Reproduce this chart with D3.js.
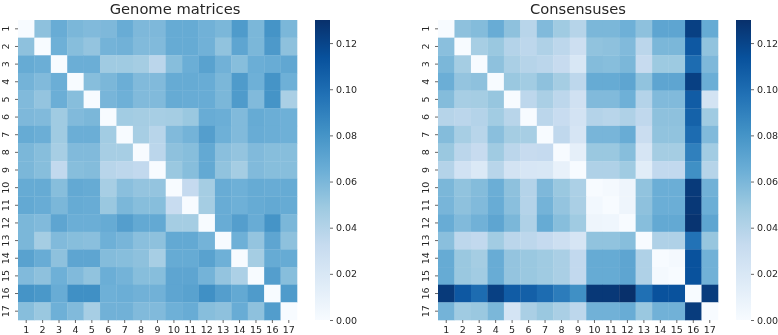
<!DOCTYPE html>
<html>
<head>
<meta charset="utf-8">
<style>
  html, body { margin: 0; padding: 0; background: #fff; }
  svg { display: block; filter: blur(0.35px); }
  text { font-family: "DejaVu Sans", sans-serif; fill: #262626; }
</style>
</head>
<body>
<script src="https://cdn.jsdelivr.net/npm/d3@7"></script>
<script>
// Data
const labels = ['1','2','3','4','5','6','7','8','9','10','11','12','13','14','15','16','17'];
const colorTicks = [0, 0.02, 0.04, 0.06, 0.08, 0.10, 0.12];
const blues = ['#f7fbff','#deebf7','#c6dbef','#9ecae1','#6baed6','#4292c6','#2171b5','#08519c','#08306b'];

const genome = [
  [0,.054,.066,.060,.058,.059,.066,.059,.059,.067,.067,.063,.060,.076,.060,.080,.060],
  [.054,0,.064,.056,.052,.062,.063,.058,.058,.067,.067,.063,.053,.070,.060,.077,.054],
  [.067,.065,0,.065,.065,.048,.048,.046,.037,.056,.065,.072,.063,.056,.065,.066,.069],
  [.062,.058,.065,0,.056,.060,.065,.058,.058,.067,.067,.066,.060,.076,.064,.080,.064],
  [.058,.052,.065,.056,0,.061,.064,.058,.058,.067,.066,.066,.060,.076,.058,.080,.044],
  [.059,.058,.048,.058,.060,0,.047,.046,.045,.046,.050,.066,.065,.058,.067,.065,.064],
  [.067,.065,.048,.065,.065,.047,0,.045,.038,.058,.062,.074,.064,.058,.066,.065,.064],
  [.060,.056,.045,.058,.058,.045,.045,0,.037,.054,.056,.068,.055,.052,.058,.056,.056],
  [.060,.056,.034,.056,.057,.038,.036,.034,0,.050,.056,.068,.053,.046,.058,.056,.056],
  [.067,.067,.056,.068,.067,.045,.055,.052,.052,0,.033,.046,.066,.064,.067,.066,.067],
  [.068,.066,.060,.067,.066,.050,.060,.056,.056,.031,0,.046,.066,.064,.067,.068,.067],
  [.060,.058,.070,.065,.065,.067,.074,.068,.068,.046,.046,0,.066,.074,.066,.080,.060],
  [.060,.046,.058,.056,.055,.064,.061,.055,.054,.068,.068,.062,0,.064,.052,.070,.054],
  [.072,.066,.054,.070,.070,.057,.056,.054,.045,.067,.067,.072,.064,0,.046,.067,.067],
  [.058,.054,.064,.058,.053,.065,.062,.056,.056,.070,.070,.062,.052,.043,0,.074,.056],
  [.080,.078,.066,.082,.082,.064,.065,.063,.063,.070,.072,.082,.074,.068,.076,0,.076],
  [.056,.050,.064,.058,.045,.063,.063,.058,.058,.064,.066,.056,.054,.066,.054,.075,0]
];

const consensus = [
  [0,.054,.057,.066,.054,.038,.058,.048,.039,.060,.060,.064,.054,.070,.070,.122,.067],
  [.055,0,.045,.050,.040,.036,.042,.036,.028,.053,.054,.058,.037,.060,.060,.110,.053],
  [.060,.046,0,.054,.044,.039,.037,.032,.020,.057,.056,.060,.032,.049,.049,.100,.059],
  [.065,.052,.054,0,.050,.047,.054,.046,.036,.067,.067,.070,.053,.070,.070,.122,.065],
  [.057,.045,.046,.051,0,.036,.044,.036,.026,.058,.058,.064,.040,.058,.058,.108,.024],
  [.039,.037,.040,.047,.038,0,.037,.031,.024,.040,.038,.042,.035,.054,.054,.105,.048],
  [.057,.045,.038,.055,.046,.045,0,.035,.022,.061,.061,.066,.030,.053,.053,.100,.058],
  [.050,.037,.032,.048,.037,.032,.033,0,.012,.050,.050,.056,.022,.046,.046,.090,.047],
  [.040,.025,.018,.038,.024,.021,.020,.010,0,.042,.042,.048,.014,.034,.034,.082,.039],
  [.060,.053,.057,.065,.054,.040,.059,.050,.043,0,.002,.006,.053,.065,.065,.125,.063],
  [.061,.054,.058,.066,.055,.040,.062,.052,.044,.003,0,.006,.054,.065,.065,.126,.065],
  [.066,.058,.063,.070,.060,.042,.067,.056,.048,.006,.005,0,.056,.068,.068,.128,.070],
  [.055,.036,.034,.047,.037,.036,.033,.028,.022,.053,.053,.056,0,.042,.042,.097,.051],
  [.067,.050,.046,.066,.052,.050,.048,.044,.034,.067,.067,.070,.042,0,.002,.113,.063],
  [.067,.050,.047,.066,.052,.050,.048,.044,.034,.067,.067,.070,.042,.002,0,.113,.063],
  [.125,.110,.100,.122,.108,.106,.100,.092,.082,.126,.126,.130,.098,.113,.113,0,.124],
  [.062,.048,.050,.060,.023,.044,.050,.044,.036,.063,.063,.066,.050,.063,.063,.124,0]
];

let width = 778, height = 335;
let plotTop = 20, plotBottom = 320;
let vmax = 0.13;

let svg = d3.select('body')
  .append('svg')
  .attr('width', width)
  .attr('height', height);

// matplotlib Blues: the nine stops spaced evenly over the range
let colorScale = d3.scaleLinear()
  .domain(blues.map((c, i) => i * vmax / (blues.length - 1)))
  .range(blues);

let defs = svg.append('defs');
let grad = defs.append('linearGradient')
  .attr('id', 'bluesRamp')
  .attr('x1', 0).attr('y1', 1).attr('x2', 0).attr('y2', 0);
grad.selectAll('stop')
  .data(blues)
  .enter()
  .append('stop')
  .attr('offset', (d, i) => i / (blues.length - 1))
  .attr('stop-color', d => d);

function heatmap(matrix, title, titleX, x0, x1, barX) {
  let g = svg.append('g');

  let xScale = d3.scaleBand().domain(labels).range([x0, x1]);
  let yScale = d3.scaleBand().domain(labels).range([plotTop, plotBottom]);

  g.selectAll('g.row')
    .data(matrix)
    .enter()
    .append('g')
    .attr('class', 'row')
    .selectAll('rect')
    .data((row, i) => row.map((v, j) => ({ r: labels[i], c: labels[j], v: v })))
    .enter()
    .append('rect')
    .attr('x', d => xScale(d.c))
    .attr('y', d => yScale(d.r))
    .attr('width', xScale.bandwidth() + 0.3)
    .attr('height', yScale.bandwidth() + 0.3)
    .attr('fill', d => colorScale(d.v));

  let xAxis = g.append('g')
    .attr('transform', `translate(0,${plotBottom})`)
    .call(d3.axisBottom(xScale).tickSize(3).tickPadding(3));
  xAxis.select('.domain').remove();
  xAxis.selectAll('text').style('font-size', '9.5px');

  let yAxis = g.append('g')
    .attr('transform', `translate(${x0},0)`)
    .call(d3.axisLeft(yScale).tickSize(3).tickPadding(3));
  yAxis.select('.domain').remove();
  yAxis.selectAll('text')
    .style('font-size', '9.5px')
    .attr('text-anchor', 'middle')
    .attr('dy', 0)
    .attr('x', 0)
    .attr('transform', 'translate(-9.5,0) rotate(-90)');
  g.selectAll('.tick line').attr('stroke', '#262626').attr('stroke-width', 0.7);

  g.append('text')
    .attr('x', titleX)
    .attr('y', 14)
    .attr('text-anchor', 'middle')
    .style('font-size', '14.7px')
    .text(title);

  // colorbar
  let barScale = d3.scaleLinear().domain([0, vmax]).range([plotBottom, plotTop]);
  g.append('rect')
    .attr('x', barX)
    .attr('y', plotTop)
    .attr('width', 15)
    .attr('height', plotBottom - plotTop)
    .attr('fill', 'url(#bluesRamp)');

  let barAxis = g.append('g')
    .attr('transform', `translate(${barX + 15},0)`)
    .call(d3.axisRight(barScale).tickValues(colorTicks).tickFormat(d3.format('.2f')).tickSize(3).tickPadding(3));
  barAxis.select('.domain').remove();
  barAxis.selectAll('text').style('font-size', '9.5px');
  barAxis.selectAll('line').attr('stroke', '#262626').attr('stroke-width', 0.7);
}

heatmap(genome, 'Genome matrices', 175, 18, 297, 315);
heatmap(consensus, 'Consensuses', 578, 438, 718, 736);
</script>
</body>
</html>
